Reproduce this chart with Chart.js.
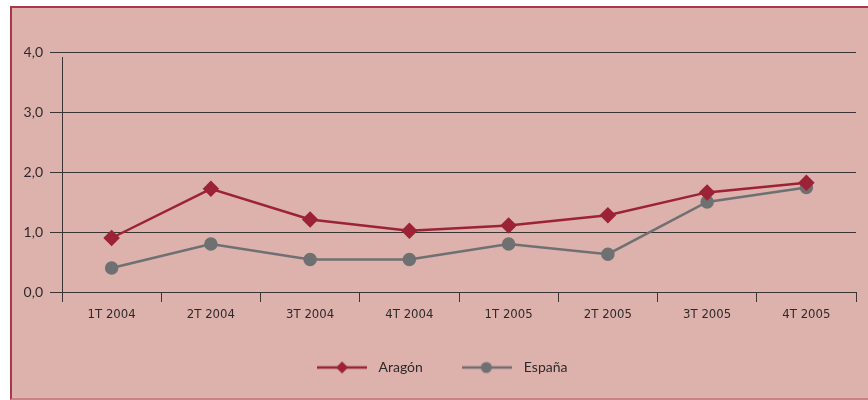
<!DOCTYPE html>
<html lang="es">
<head>
    <meta charset="UTF-8">
    <title>Aragón - España</title>
    <script src="https://cdn.jsdelivr.net/npm/chart.js@4"></script>
    <style>
        html, body {
            margin: 0;
            padding: 0;
            background: #ffffff;
            overflow: hidden;
        }
        .marco {
            position: absolute;
            left: 10px;
            top: 6px;
            width: 858px;
            height: 390px;
            background-color: #ddb1ac;
            border-left: 2px solid #a8374a;
            border-top: 2px solid #a8374a;
            border-bottom: 2px solid #c7828a;
        }
        .marco div {
            position: relative;
            width: 856px;
            height: 390px;
        }
    </style>
</head>
<body>
    <div class="marco">
        <div><canvas id="grafico"></canvas></div>
    </div>

    <script>
        // Datos
        const trimestres = ['1T 2004', '2T 2004', '3T 2004', '4T 2004', '1T 2005', '2T 2005', '3T 2005', '4T 2005'];
        const aragon = [0.90, 1.72, 1.21, 1.02, 1.11, 1.28, 1.66, 1.82];
        const espana = [0.40, 0.80, 0.54, 0.54, 0.80, 0.63, 1.50, 1.74];
        const etiquetasY = ['0,0', '1,0', '2,0', '3,0', '4,0'];

        const rojo = '#9b2335';
        const gris = '#6f7072';
        const linea = '#3a3434';

        // Simbolo de leyenda: linea con marcador
        function simbolo(color, forma) {
            const c = document.createElement('canvas');
            c.width = 50;
            c.height = 14;
            const ctx = c.getContext('2d');
            ctx.strokeStyle = color;
            ctx.fillStyle = color;
            ctx.lineWidth = 2.5;
            ctx.beginPath();
            ctx.moveTo(0, 7);
            ctx.lineTo(50, 7);
            ctx.stroke();
            ctx.beginPath();
            if (forma === 'rombo') {
                ctx.moveTo(25, 1);
                ctx.lineTo(31, 7);
                ctx.lineTo(25, 13);
                ctx.lineTo(19, 7);
                ctx.closePath();
            } else {
                ctx.arc(24, 7, 5.5, 0, Math.PI * 2);
            }
            ctx.fill();
            return c;
        }
        const simbolos = [simbolo(rojo, 'rombo'), simbolo(gris, 'circulo')];

        // Eje vertical (empieza algo por debajo de la linea de 4,0)
        const ejeVertical = {
            id: 'ejeVertical',
            afterDraw(chart) {
                const a = chart.chartArea;
                const ctx = chart.ctx;
                ctx.save();
                ctx.strokeStyle = linea;
                ctx.lineWidth = 1;
                ctx.beginPath();
                ctx.moveTo(a.left + 0.5, a.top + 5);
                ctx.lineTo(a.left + 0.5, a.bottom);
                ctx.stroke();
                ctx.restore();
            }
        };

        new Chart(document.getElementById('grafico'), {
            type: 'line',
            data: {
                labels: trimestres,
                datasets: [{
                    label: 'Aragón',
                    data: aragon,
                    borderColor: rojo,
                    backgroundColor: rojo,
                    borderWidth: 2.5,
                    pointStyle: 'rectRot',
                    pointRadius: 6.5,
                    pointHoverRadius: 6.5,
                    tension: 0
                }, {
                    label: 'España',
                    data: espana,
                    borderColor: gris,
                    backgroundColor: gris,
                    borderWidth: 2.5,
                    pointStyle: 'circle',
                    pointRadius: 5.5,
                    pointHoverRadius: 5.5,
                    tension: 0
                }]
            },
            options: {
                responsive: true,
                maintainAspectRatio: false,
                animation: false,
                layout: {
                    padding: { top: 44, right: 12, bottom: 13.5, left: 12 }
                },
                plugins: {
                    tooltip: { enabled: false },
                    legend: {
                        position: 'bottom',
                        labels: {
                            usePointStyle: true,
                            pointStyleWidth: 59,
                            padding: 35,
                            color: '#2e2a2a',
                            font: { family: 'Lato', size: 14 },
                            generateLabels(chart) {
                                return chart.data.datasets.map((ds, i) => ({
                                    text: ds.label,
                                    pointStyle: simbolos[i],
                                    fillStyle: ds.borderColor,
                                    strokeStyle: ds.borderColor,
                                    lineWidth: 0,
                                    fontColor: '#2e2a2a',
                                    datasetIndex: i
                                }));
                            }
                        }
                    }
                },
                scales: {
                    x: {
                        offset: true,
                        afterFit(scale) { scale.height = 33.5; },
                        grid: {
                            offset: true,
                            drawOnChartArea: false,
                            drawTicks: true,
                            tickLength: 10,
                            color: linea
                        },
                        border: { display: false },
                        ticks: {
                            padding: 5,
                            color: '#2e2a2a',
                            maxRotation: 0,
                            font: { family: "'Liberation Sans Narrow', 'DejaVu Sans Condensed', sans-serif", size: 13 }
                        }
                    },
                    y: {
                        min: 0,
                        max: 4,
                        afterFit(scale) { scale.width = 38; },
                        ticks: {
                            stepSize: 1,
                            padding: 7,
                            color: '#2e2a2a',
                            font: { family: 'Lato', size: 14 },
                            callback: (v, i) => etiquetasY[i]
                        },
                        grid: {
                            color: linea,
                            lineWidth: 1,
                            tickLength: 12
                        },
                        border: { display: false }
                    }
                }
            },
            plugins: [ejeVertical]
        });
    </script>
</body>
</html>
